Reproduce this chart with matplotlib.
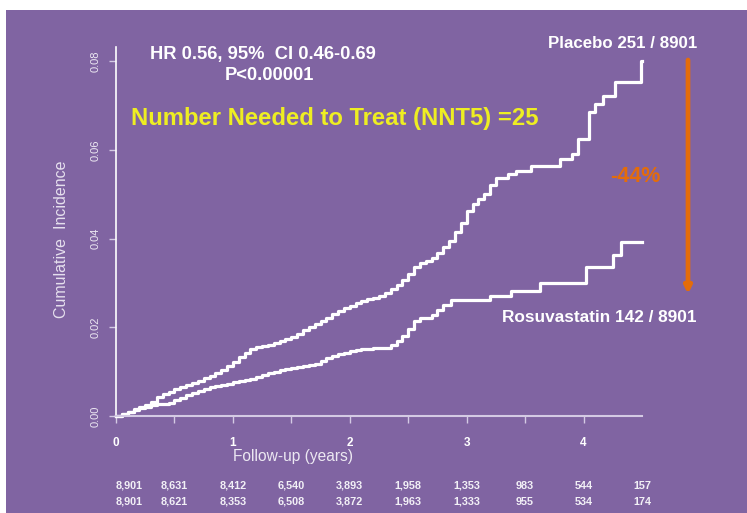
import matplotlib
matplotlib.use("Agg")
import matplotlib.pyplot as plt
from matplotlib.patches import Rectangle
import matplotlib.transforms as mtransforms

plt.rcParams['font.family'] = ['Liberation Sans', 'DejaVu Sans']

# Kaplan-Meier style cumulative incidence
placebo_t = [0, 0.05, 0.1, 0.15, 0.2, 0.25, 0.3, 0.35, 0.4, 0.45, 0.5, 0.55, 0.6,
             0.65, 0.7, 0.75, 0.8, 0.85, 0.9, 0.95, 1.0, 1.05, 1.1, 1.15, 1.2,
             1.25, 1.3, 1.35, 1.4, 1.45, 1.5, 1.55, 1.6, 1.65, 1.7, 1.75, 1.8,
             1.85, 1.9, 1.95, 2.0, 2.05, 2.1, 2.15, 2.2, 2.25, 2.3, 2.35, 2.4,
             2.45, 2.5, 2.55, 2.6, 2.65, 2.7, 2.75, 2.8, 2.85, 2.9, 2.95, 3.0,
             3.05, 3.1, 3.15, 3.2, 3.25, 3.35, 3.42, 3.55, 3.8, 3.9, 3.95, 4.05,
             4.1, 4.17, 4.27, 4.49, 4.5]
placebo_y = [0, 0.0004, 0.0010, 0.0015, 0.0020, 0.0025, 0.0032, 0.0042, 0.0050,
             0.0055, 0.0060, 0.0065, 0.0070, 0.0075, 0.0080, 0.0085, 0.0090,
             0.0096, 0.0103, 0.0112, 0.0122, 0.0132, 0.0142, 0.0150, 0.0155,
             0.0157, 0.0160, 0.0165, 0.0169, 0.0173, 0.0178, 0.0185, 0.0193,
             0.0200, 0.0208, 0.0215, 0.0222, 0.0230, 0.0237, 0.0243, 0.0249,
             0.0255, 0.0259, 0.0263, 0.0266, 0.0271, 0.0278, 0.0286, 0.0295,
             0.0306, 0.0320, 0.0335, 0.0346, 0.0350, 0.0356, 0.0368, 0.0380,
             0.0395, 0.0415, 0.0435, 0.0462, 0.0478, 0.0490, 0.0500, 0.0520,
             0.0536, 0.0545, 0.0552, 0.0563, 0.0579, 0.0590, 0.0624, 0.0685,
             0.0703, 0.0721, 0.0753, 0.0800, 0.0800]

rosu_t = [0, 0.05, 0.1, 0.15, 0.2, 0.25, 0.3, 0.35, 0.4, 0.45, 0.5, 0.55, 0.6,
          0.65, 0.7, 0.75, 0.8, 0.85, 0.9, 0.95, 1.0, 1.05, 1.1, 1.15, 1.2, 1.25,
          1.3, 1.35, 1.4, 1.45, 1.5, 1.55, 1.6, 1.65, 1.7, 1.75, 1.8, 1.85, 1.9,
          1.95, 2.0, 2.05, 2.1, 2.2, 2.3, 2.35, 2.4, 2.45, 2.5, 2.55, 2.6, 2.7,
          2.75, 2.8, 2.87, 3.2, 3.38, 3.63, 4.02, 4.25, 4.32, 4.5]
rosu_y = [0, 0.0004, 0.0008, 0.0013, 0.0017, 0.0021, 0.0024, 0.0026, 0.0027,
          0.0030, 0.0035, 0.0041, 0.0047, 0.0052, 0.0057, 0.0061, 0.0065,
          0.0068, 0.0071, 0.0073, 0.0076, 0.0078, 0.0081, 0.0084, 0.0088,
          0.0092, 0.0096, 0.0100, 0.0103, 0.0106, 0.0108, 0.0110, 0.0112,
          0.0114, 0.0117, 0.0124, 0.0130, 0.0136, 0.0140, 0.0143, 0.0146,
          0.0148, 0.0150, 0.0153, 0.0154, 0.0160, 0.0168, 0.0180, 0.0196,
          0.0215, 0.0222, 0.0228, 0.0240, 0.0251, 0.0262, 0.0271, 0.0282,
          0.0300, 0.0337, 0.0362, 0.0393, 0.0393]

# numbers at risk
risk_times = [0, 0.5, 1, 1.5, 2, 2.5, 3, 3.5, 4, 4.5]
risk_placebo = ['8,901', '8,631', '8,412', '6,540', '3,893', '1,958', '1,353', '983', '544', '157']
risk_rosu = ['8,901', '8,621', '8,353', '6,508', '3,872', '1,963', '1,333', '955', '534', '174']

purple = '#8064A2'
yellow = '#EEEE22'
orange = '#E46C0A'

fig = plt.figure(figsize=(7.47, 5.13), dpi=100)
fig.patch.set_facecolor('white')
fig.patches.append(Rectangle((6 / 747, 0), 1, 1 - 10 / 513, transform=fig.transFigure,
                             facecolor=purple, edgecolor='none', zorder=-10))

ax = fig.add_axes([116 / 747, 1 - 416 / 513, (642 - 116) / 747, (416 - 47) / 513])
ax.set_facecolor('none')
ax.set_xlim(0, 4.5)
ax.set_ylim(0, 0.0832)

ax.step(placebo_t, placebo_y, where='post', color='white', lw=2.3, clip_on=False)
ax.step(rosu_t, rosu_y, where='post', color='white', lw=2.3, clip_on=False)

for s in ['top', 'right']:
    ax.spines[s].set_visible(False)
ax.spines['left'].set_color('white')
ax.spines['left'].set_linewidth(1.2)
ax.spines['bottom'].set_color('#D4CAE4')
ax.spines['bottom'].set_linewidth(1.5)
ax.spines['bottom'].set_bounds(0, 4.5)

ax.set_yticks([0, 0.02, 0.04, 0.06, 0.08])
ax.set_yticklabels(['0.00', '0.02', '0.04', '0.06', '0.08'], rotation=90, va='center')
ax.set_xticks([0, 0.5, 1, 1.5, 2, 2.5, 3, 3.5, 4])
ax.set_xticklabels(['0', '', '1', '', '2', '', '3', '', '4'])
ax.tick_params(axis='y', colors='#D4CAE4', labelcolor='#ECE8F2', labelsize=8,
               length=5, width=1, pad=6)
ax.tick_params(axis='x', colors='#D4CAE4', labelcolor='white', labelsize=8.5,
               length=5, width=1, pad=10)
for lab in ax.get_xticklabels():
    lab.set_fontweight('bold')

fig.text(62 / 747, 1 - 239 / 513, 'Cumulative  Incidence', rotation=90, ha='center',
         va='center', color='#E6E0EE', fontsize=11.5)
fig.text(293 / 747, 1 - 457 / 513, 'Follow-up (years)', ha='center', va='center',
         color='#ECE8F2', fontsize=11.2)

# numbers at risk table under the axis
trans = mtransforms.blended_transform_factory(ax.transData, fig.transFigure)
for i, t in enumerate(risk_times):
    ha = 'left' if i == 0 else 'center'
    ax.text(t, 1 - 486 / 513, risk_placebo[i], transform=trans, ha=ha, va='center',
            color='#F2F0F6', fontsize=7.8, fontweight='bold')
    ax.text(t, 1 - 502 / 513, risk_rosu[i], transform=trans, ha=ha, va='center',
            color='#F2F0F6', fontsize=7.8, fontweight='bold')

# annotations
fig.text(263 / 747, 1 - 55 / 513, 'HR 0.56, 95%  CI 0.46-0.69', ha='center', va='center',
         color='white', fontsize=13.2, fontweight='bold')
fig.text(269 / 747, 1 - 76 / 513, 'P<0.00001', ha='center', va='center',
         color='white', fontsize=13.2, fontweight='bold')
fig.text(335 / 747, 1 - 118 / 513, 'Number Needed to Treat (NNT5) =25', ha='center',
         va='center', color=yellow, fontsize=17.2, fontweight='bold')
fig.text(697 / 747, 1 - 44 / 513, 'Placebo 251 / 8901', ha='right', va='center',
         color='white', fontsize=12.2, fontweight='bold')
fig.text(697 / 747, 1 - 318 / 513, 'Rosuvastatin 142 / 8901', ha='right', va='center',
         color='white', fontsize=12.4, fontweight='bold')
fig.text(635 / 747, 1 - 177 / 513, '-44%', ha='center', va='center',
         color=orange, fontsize=15.5, fontweight='bold')

ax.annotate('', xy=(688 / 747, 1 - 294 / 513), xytext=(688 / 747, 1 - 60 / 513),
            xycoords='figure fraction', textcoords='figure fraction',
            arrowprops=dict(arrowstyle='-|>', color=orange, lw=3.4,
                            mutation_scale=10, shrinkA=0, shrinkB=0))

fig.savefig('out.png', dpi=100, facecolor=fig.get_facecolor())
